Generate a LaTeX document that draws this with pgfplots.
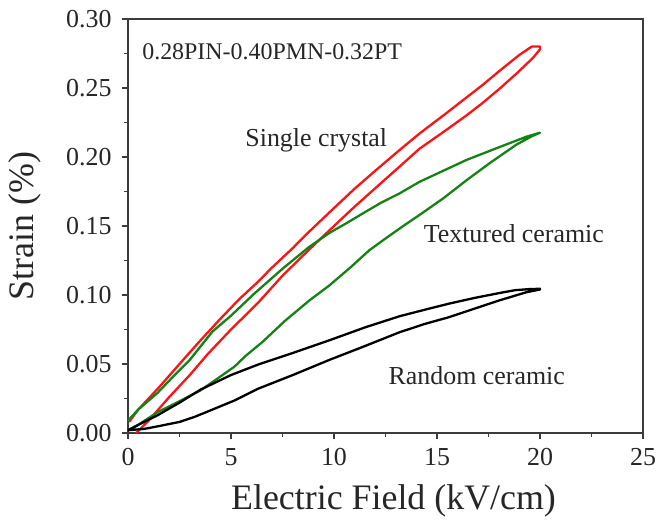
\documentclass[border=0pt]{standalone}
\usepackage{pgfplots}
\pgfplotsset{compat=1.18}
\usepackage{fontspec}
\setmainfont{Liberation Serif}

\definecolor{loopred}{RGB}{250,20,20}
\definecolor{loopgreen}{RGB}{20,130,20}
\definecolor{framegray}{RGB}{60,60,60}

\begin{document}
\begin{tikzpicture}
\path[use as bounding box] (-128bp,-88bp) rectangle (542bp,433bp);
\begin{axis}[
  scale only axis,
  width=515bp, height=414bp,
  xmin=0, xmax=25, ymin=0, ymax=0.30,
  xtick={0,5,10,15,20,25},
  ytick={0,0.05,0.10,0.15,0.20,0.25,0.30},
  minor x tick num=1, minor y tick num=1,
  tick align=outside,
  xtick pos=bottom, ytick pos=left,
  major tick length=6bp, minor tick length=4bp,
  axis line style={framegray, line width=1.3bp},
  every tick/.style={framegray, line width=1.1bp},
  /pgf/number format/assume math mode=true,
  ticklabel style={font=\fontsize{26}{29}\selectfont, text=black!85},
  yticklabel style={xshift=-7bp, /pgf/number format/.cd, fixed, fixed zerofill, precision=2},
  xticklabel style={yshift=-6bp, /pgf/number format/.cd, fixed, precision=0},
  xlabel={Electric Field (kV/cm)},
  ylabel={Strain (\%)},
  label style={font=\fontsize{36}{40}\selectfont, text=black!85},
  xlabel style={yshift=-12bp, xshift=8bp},
  ylabel style={yshift=18bp},
  every axis plot/.append style={no marks, line width=2.3bp, line join=round},
  clip=false,
]

% single crystal: rising-field branch, then falling-field branch back to zero
\addplot[loopred] coordinates {
  (0.4,0.000) (1.0,0.009) (2.0,0.026) (3.0,0.042) (3.86,0.057) (5.0,0.075)
  (6.29,0.094) (7.5,0.114) (8.8,0.133) (10.0,0.150) (11.0,0.164) (12.2,0.180)
  (13.18,0.193) (14.15,0.206) (15.3,0.218) (16.42,0.230) (17.2,0.239)
  (18.0,0.249) (18.9,0.261) (19.67,0.272) (20.0,0.278)
  (20.0,0.280) (19.6,0.280) (19.0,0.274) (18.0,0.262) (17.2,0.252)
  (16.42,0.243) (15.3,0.230) (14.15,0.217) (13.18,0.205) (12.0,0.190)
  (11.0,0.177) (10.0,0.163) (8.8,0.146) (8.0,0.134) (7.0,0.120) (6.2,0.108)
  (5.4,0.097) (4.5,0.083) (3.45,0.066) (2.5,0.050) (1.5,0.033) (0.5,0.017)
  (0.05,0.008)
};

% textured ceramic
\addplot[loopgreen] coordinates {
  (0.0,0.002) (0.5,0.006) (1.43,0.015) (2.5,0.023) (3.53,0.031) (4.3,0.039)
  (5.16,0.048) (5.72,0.056) (6.53,0.066) (7.6,0.081) (8.8,0.096) (9.78,0.107)
  (10.8,0.120) (11.72,0.1325) (12.6,0.142) (13.42,0.1506) (14.15,0.158)
  (15.3,0.170) (16.42,0.183) (17.6,0.196) (18.86,0.209) (19.6,0.215)
  (20.0,0.2176)
  (19.34,0.2147) (18.0,0.207) (16.42,0.1978) (15.3,0.190) (14.15,0.182)
  (13.18,0.1736) (12.3,0.167) (11.5,0.160) (10.6,0.152) (9.78,0.145)
  (8.8,0.1349) (7.5,0.119) (6.13,0.101) (5.0,0.085) (4.1,0.0735) (3.0,0.053)
  (2.2,0.041) (1.43,0.029) (0.5,0.017) (0.0,0.009)
};

% random ceramic
\addplot[black] coordinates {
  (0.0,0.002) (0.8,0.003) (1.5,0.005) (2.5,0.008) (3.2,0.0115) (3.86,0.0155)
  (5.16,0.0235) (6.3,0.032) (8.0,0.042) (9.78,0.053) (11.5,0.063)
  (13.18,0.073) (14.4,0.079) (15.6,0.084) (16.8,0.090) (18.05,0.0962)
  (19.34,0.102) (20.0,0.104)
  (20.0,0.1045) (19.5,0.1043) (18.8,0.1035) (18.05,0.1015) (16.8,0.0978)
  (15.6,0.0938) (14.4,0.0893) (13.18,0.0846) (11.5,0.0765) (9.78,0.0672)
  (8.0,0.058) (6.3,0.0495) (5.0,0.042) (3.53,0.0315) (2.5,0.022)
  (1.43,0.0128) (0.78,0.008) (0.0,0.002)
};

\node[font=\fontsize{24}{28}\selectfont, text=black!85] at (axis cs:7.0,0.276) {0.28PIN-0.40PMN-0.32PT};
\node[font=\fontsize{26}{30}\selectfont, text=black!85] at (axis cs:9.14,0.212) {Single crystal};
\node[font=\fontsize{26}{30}\selectfont, text=black!85] at (axis cs:18.73,0.1448) {Textured ceramic};
\node[font=\fontsize{26}{30}\selectfont, text=black!85] at (axis cs:16.93,0.0419) {Random ceramic};
\end{axis}
\end{tikzpicture}
\end{document}
